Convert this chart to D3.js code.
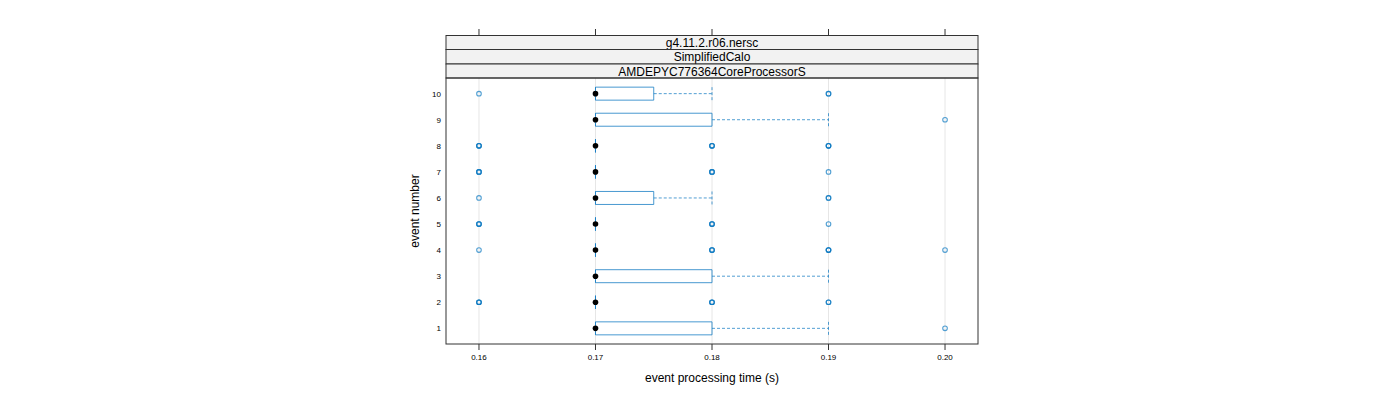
<!DOCTYPE html>
<html><head><meta charset="utf-8">
<script src="https://cdn.jsdelivr.net/npm/d3@7"></script>
<style>body{margin:0;background:#fff;} svg{display:block;font-family:"Liberation Sans",Arial,sans-serif;}</style>
</head><body>
<svg id="c" width="1400" height="400"></svg>
<script>
const events = [1,2,3,4,5,6,7,8,9,10];
const q1 =      [0.17,0.17,0.17,0.17,0.17,0.17,0.17,0.17,0.17,0.17];
const median =  [0.17,0.17,0.17,0.17,0.17,0.17,0.17,0.17,0.17,0.17];
const q3 =      [0.18,0.17,0.18,0.17,0.17,0.175,0.17,0.17,0.18,0.175];
const whiskLo = [0.17,0.17,0.17,0.17,0.17,0.17,0.17,0.17,0.17,0.17];
const whiskHi = [0.19,0.17,0.19,0.17,0.17,0.18,0.17,0.17,0.19,0.18];
// outliers: [value, count of overlapping points]
const outliers = [
  [[0.20,1]],
  [[0.16,3],[0.18,3],[0.19,2]],
  [],
  [[0.16,1],[0.18,3],[0.19,3],[0.20,1]],
  [[0.16,3],[0.18,3],[0.19,1]],
  [[0.16,1],[0.19,2]],
  [[0.16,3],[0.18,3],[0.19,1]],
  [[0.16,3],[0.18,3],[0.19,3]],
  [[0.20,1]],
  [[0.16,1],[0.19,2]]
];
const xTicks = [0.16,0.17,0.18,0.19,0.20];
const strips = ["g4.11.2.r06.nersc","SimplifiedCalo","AMDEPYC776364CoreProcessorS"];
const xTitle = "event processing time (s)";
const yTitle = "event number";

const svg = d3.select("#c");
const L=446,R=978,T=78,B=344;
const x = d3.scaleLinear().domain([0.15717,0.20283]).range([L,R]);
const y = d3.scaleLinear().domain([0.4,10.6]).range([B,T]);
const blue="#1a7fc4";

// grid
svg.append("g").selectAll("line").data(xTicks).join("line")
  .attr("x1",d=>x(d)).attr("x2",d=>x(d)).attr("y1",T).attr("y2",B)
  .attr("stroke","#e6e6e6").attr("stroke-width",1);

// strips
const sh=[35.5,49.5,64,78];
strips.forEach((s,i)=>{
  svg.append("rect").attr("x",L).attr("y",sh[i]).attr("width",R-L).attr("height",sh[i+1]-sh[i])
    .attr("fill","#f2f2f2").attr("stroke","#333").attr("stroke-width",1);
  svg.append("text").attr("x",(L+R)/2).attr("y",(sh[i]+sh[i+1])/2+4.5).attr("text-anchor","middle")
    .attr("font-size",12).attr("fill","#000").text(s);
});

const hh=6.5;
const g = svg.append("g");
events.forEach((e,i)=>{
  const cy=y(e);
  // whiskers
  g.append("line").attr("x1",x(q3[i])).attr("x2",x(whiskHi[i])).attr("y1",cy).attr("y2",cy)
    .attr("stroke",blue).attr("stroke-opacity",0.75).attr("stroke-dasharray","3,2");
  g.append("line").attr("x1",x(whiskLo[i])).attr("x2",x(q1[i])).attr("y1",cy).attr("y2",cy)
    .attr("stroke",blue).attr("stroke-opacity",0.75).attr("stroke-dasharray","3,2");
  [whiskLo[i],whiskHi[i]].forEach(v=>{
    g.append("line").attr("x1",x(v)).attr("x2",x(v)).attr("y1",cy-hh).attr("y2",cy+hh)
      .attr("stroke",blue).attr("stroke-opacity",0.75).attr("stroke-dasharray","3,2");
  });
  const x0=x(q1[i]), x1=x(q3[i]);
  g.append("path").attr("d",`M${x0},${cy-hh}H${x1}V${cy+hh}H${x0}Z`)
    .attr("fill","none").attr("stroke",blue).attr("stroke-opacity",0.8);
  outliers[i].forEach(([v,n])=>{
    for(let k=0;k<n;k++){
      g.append("circle").attr("cx",x(v)).attr("cy",cy).attr("r",2.3)
        .attr("fill","none").attr("stroke","#0a78c0").attr("stroke-opacity",0.7).attr("stroke-width",1.1);
    }
  });
  g.append("circle").attr("cx",x(median[i])).attr("cy",cy).attr("r",2.8).attr("fill","#000");
});

// panel border
svg.append("rect").attr("x",L).attr("y",T).attr("width",R-L).attr("height",B-T)
  .attr("fill","none").attr("stroke","#333");

// ticks
xTicks.forEach(t=>{
  svg.append("line").attr("x1",x(t)).attr("x2",x(t)).attr("y1",29).attr("y2",35.5).attr("stroke","#333");
  svg.append("line").attr("x1",x(t)).attr("x2",x(t)).attr("y1",B).attr("y2",B+6).attr("stroke","#333");
  svg.append("text").attr("x",x(t)).attr("y",360).attr("text-anchor","middle").attr("font-size",8)
    .attr("fill","#000").text(t.toFixed(2));
});
events.forEach(e=>{
  svg.append("text").attr("x",441).attr("y",y(e)+3).attr("text-anchor","end").attr("font-size",8)
    .attr("fill","#000").text(e);
});
svg.append("text").attr("x",(L+R)/2).attr("y",382).attr("text-anchor","middle").attr("font-size",12)
  .attr("fill","#000").text(xTitle);
svg.append("text").attr("transform",`translate(419,${(T+B)/2}) rotate(-90)`).attr("text-anchor","middle")
  .attr("font-size",12).attr("fill","#000").text(yTitle);
</script>
</body></html>
